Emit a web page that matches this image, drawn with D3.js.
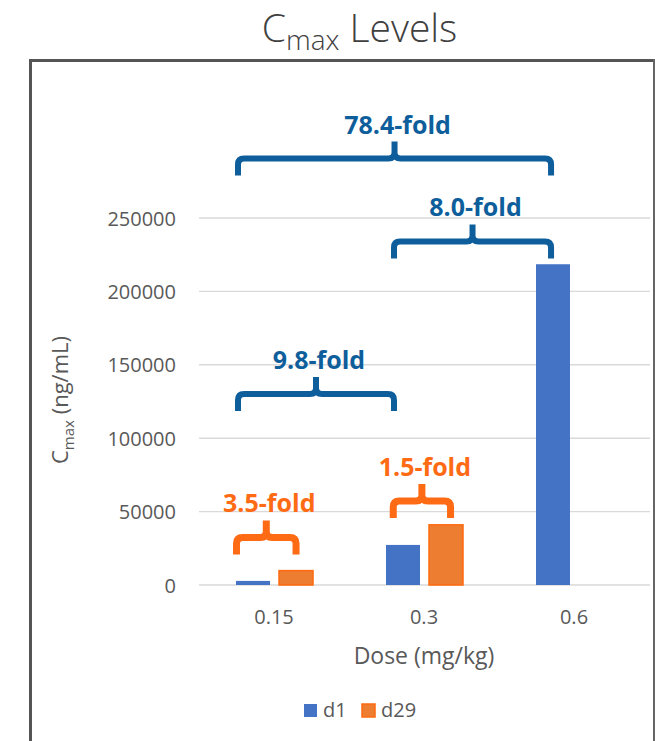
<!DOCTYPE html>
<html>
<head>
<meta charset="utf-8">
<script src="https://cdn.jsdelivr.net/npm/d3@7"></script>
<style>
  html, body { margin: 0; padding: 0; background: #fff; }
  svg { display: block; font-family: "Open Sans", "Noto Sans", sans-serif; }
</style>
</head>
<body>
<svg id="chart" width="655" height="741"></svg>
<script>
// ---- data ----
const categories = ["0.15", "0.3", "0.6"];
const seriesNames = ["d1", "d29"];
const d1Values = [2790, 27300, 218500];
const d29Values = [9800, 41000, null];
const yTicks = [0, 50000, 100000, 150000, 200000, 250000];

// fold-change annotations (labels, group, span in category + fraction of band, level in data units)
const annLabels = ["78.4-fold", "8.0-fold", "9.8-fold", "3.5-fold", "1.5-fold"];
const annSeries = ["d1", "d1", "d1", "d29", "d29"];
const annFromCat = ["0.15", "0.3", "0.15", "0.15", "0.3"];
const annFromFrac = [0.26, 0.30, 0.26, 0.25, 0.295];
const annToCat = ["0.6", "0.6", "0.3", "0.15", "0.3"];
const annToFrac = [0.347, 0.347, 0.30, 0.647, 0.677];
const annLevel = [290500, 234000, 130100, 32400, 57200];

// ---- layout ----
const svg = d3.select("#chart");
const plotLeft = 199, plotRight = 649, plotBottom = 585, plotTopTick = 218;
const colors = { d1: "#4472C4", d29: "#ED7D31" };
const strokeColors = { d1: "#4472C4", d29: "#FF6A10" };
const annColors = { d1: "#0E5E9C", d29: "#FF6A14" };

const x = d3.scaleBand().domain(categories).range([plotLeft, plotRight]).paddingInner(0).paddingOuter(0);
const xs = d3.scaleBand().domain(seriesNames).range([37, 114]).paddingInner(0.21);
const y = d3.scaleLinear().domain([0, 250000]).range([plotBottom, plotTopTick]);

// frame
svg.append("path")
  .attr("d", "M30.5,741 V60.5 H654")
  .attr("fill", "none").attr("stroke", "#555").attr("stroke-width", 3);
svg.append("line").attr("x1", 654).attr("x2", 654).attr("y1", 59).attr("y2", 741)
  .attr("stroke", "#666").attr("stroke-width", 2);

// title
const title = svg.append("text")
  .attr("x", 359.5).attr("y", 42)
  .attr("text-anchor", "middle")
  .attr("fill", "#404040")
  .attr("font-weight", 300)
  .attr("font-size", 39);
title.append("tspan").text("C");
title.append("tspan").attr("font-size", 28).attr("dy", 8).text("max");
title.append("tspan").attr("dy", -8).text(" Levels");

// gridlines
svg.append("g").selectAll("line").data(yTicks).join("line")
  .attr("x1", plotLeft).attr("x2", plotRight + 1)
  .attr("y1", d => y(d)).attr("y2", d => y(d))
  .attr("stroke", "#D9D9D9").attr("stroke-width", 1.4);

// y axis (labels only)
const yAxis = d3.axisLeft(y).tickValues(yTicks).tickSize(0).tickPadding(0).tickFormat(d3.format("d"));
const yg = svg.append("g").attr("transform", "translate(176,0)").call(yAxis);
yg.select(".domain").remove();
yg.selectAll("text").attr("font-size", 20).attr("fill", "#595959")
  .attr("font-family", "'Open Sans', sans-serif").attr("dy", "0.35em");

// x axis (labels only)
const xAxis = d3.axisBottom(x).tickSize(0).tickPadding(0);
const xg = svg.append("g").attr("transform", "translate(0,609)").call(xAxis);
xg.select(".domain").remove();
xg.selectAll("text").attr("font-size", 20).attr("fill", "#595959")
  .attr("font-family", "'Open Sans', sans-serif").attr("dy", "0.75em");

// axis titles
svg.append("text").attr("x", 424).attr("y", 664).attr("text-anchor", "middle")
  .attr("font-size", 23).attr("fill", "#595959").text("Dose (mg/kg)");

const yt = svg.append("text")
  .attr("transform", "translate(68,400) rotate(-90)")
  .attr("text-anchor", "middle").attr("font-size", 22).attr("fill", "#595959");
yt.append("tspan").text("C");
yt.append("tspan").attr("font-size", 15).attr("dy", 6).text("max");
yt.append("tspan").attr("dy", -6).text(" (ng/mL)");

// bars
const rows = [];
categories.forEach((c, i) => {
  rows.push({ cat: c, s: "d1", v: d1Values[i] });
  rows.push({ cat: c, s: "d29", v: d29Values[i] });
});
svg.append("g").selectAll("rect").data(rows.filter(r => r.v != null)).join("rect")
  .attr("x", d => x(d.cat) + xs(d.s))
  .attr("width", xs.bandwidth())
  .attr("y", d => y(d.v))
  .attr("height", d => y(0) - y(d.v))
  .attr("fill", d => colors[d.s])
  .attr("stroke", d => d.s === "d29" ? strokeColors.d29 : "none")
  .attr("stroke-width", 1.5);

// brackets
const drop = 17, peak = 17, r = 6;
function bracketPath(x0, x1, yl) {
  const xm = (x0 + x1) / 2;
  return `M${x0},${yl + drop} L${x0},${yl + r} Q${x0},${yl} ${x0 + r},${yl} L${xm - r},${yl} Q${xm},${yl} ${xm},${yl - r} L${xm},${yl - peak}` +
         ` M${x1},${yl + drop} L${x1},${yl + r} Q${x1},${yl} ${x1 - r},${yl} L${xm + r},${yl} Q${xm},${yl} ${xm},${yl - r}`;
}
const anns = annLabels.map((lab, i) => ({
  label: lab, s: annSeries[i],
  x0: x(annFromCat[i]) + annFromFrac[i] * x.bandwidth(),
  x1: x(annToCat[i]) + annToFrac[i] * x.bandwidth(),
  yl: y(annLevel[i])
}));
const ag = svg.append("g");
ag.selectAll("path").data(anns).join("path")
  .attr("d", d => bracketPath(d.x0, d.x1, d.yl))
  .attr("fill", "none")
  .attr("stroke", d => annColors[d.s])
  .attr("stroke-width", d => d.s === "d29" ? 7 : 6)
  .attr("stroke-linejoin", "round");
ag.selectAll("text").data(anns).join("text")
  .attr("x", d => (d.x0 + d.x1) / 2 + 3)
  .attr("y", d => d.yl - 25)
  .attr("text-anchor", "middle")
  .attr("font-size", 25).attr("font-weight", "bold")
  .attr("fill", d => annColors[d.s])
  .text(d => d.label);

// legend
const legend = svg.append("g");
const legX = [304, 362];
seriesNames.forEach((s, i) => {
  legend.append("rect").attr("x", legX[i]).attr("y", 704).attr("width", 13).attr("height", 13)
    .attr("fill", colors[s])
    .attr("stroke", s === "d29" ? strokeColors.d29 : "none").attr("stroke-width", 1.5);
  legend.append("text").attr("x", legX[i] + 19).attr("y", 717)
    .attr("font-size", 20).attr("fill", "#595959").text(s);
});
</script>
</body>
</html>
